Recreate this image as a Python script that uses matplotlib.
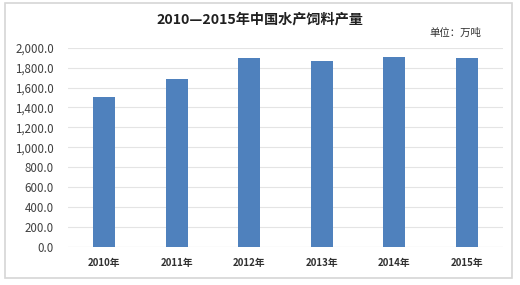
import matplotlib
matplotlib.use("Agg")
import matplotlib.pyplot as plt
from matplotlib.patches import Rectangle

plt.rcParams['font.family'] = ['Noto Sans CJK SC', 'DejaVu Sans']

years = ["2010年", "2011年", "2012年", "2013年", "2014年", "2015年"]
values = [1502, 1684, 1895, 1866, 1910, 1895]
yticks = [0, 200, 400, 600, 800, 1000, 1200, 1400, 1600, 1800, 2000]
title = "2010—2015年中国水产饲料产量"
unit = "单位：万吨"

fig = plt.figure(figsize=(5.2, 2.85), dpi=100)
fig.patch.set_facecolor("white")
fig.patches.append(Rectangle((5/520, 1-278/285), 507/520, 275/285, transform=fig.transFigure,
                             fill=False, edgecolor="#d6d6d6", linewidth=1.2))

ax = fig.add_axes([68/520, 1-246.7/285, 435/520, 199/285])
x = range(len(years))
ax.bar(x, values, width=0.31, color="#4F81BD", zorder=3)
ax.set_xlim(-0.5, len(years)-0.5)
ax.set_ylim(0, 2000)
ax.set_yticks(yticks)
ax.set_yticklabels([f"{v:,.1f}" for v in yticks], fontsize=8.3, color="#404040")
ax.set_xticks(list(x))
ax.set_xticklabels(years, fontsize=7, color="#303030", fontweight="bold")
ax.tick_params(axis="both", length=0)
ax.tick_params(axis="y", pad=10)
ax.tick_params(axis="x", pad=8)
ax.grid(axis="y", color="#e4e4e4", linewidth=0.8, zorder=0)
for s in ax.spines.values():
    s.set_visible(False)
ax.axhline(0, color="#d9d9d9", linewidth=0.8, zorder=2)

fig.text(0.5, 1-20/285, title, ha="center", va="center", fontsize=10.2, fontweight="bold", color="#202020")
fig.text(481/520, 1-33/285, unit, ha="right", va="center", fontsize=7.5, color="#303030")

fig.savefig("out.png", dpi=100, facecolor="white")
